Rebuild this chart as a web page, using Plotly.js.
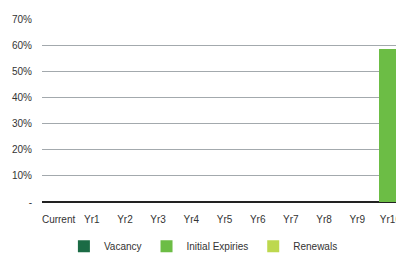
<!DOCTYPE html>
<html>
<head>
<meta charset="utf-8">
<script src="https://cdn.plot.ly/plotly-3.0.1.min.js"></script>
<style>
html,body{margin:0;padding:0;overflow:hidden;background:#fff;width:396px;height:255px;}
#chart{width:420px;height:262px;}
</style>
</head>
<body>
<div id="chart"></div>
<script>
const categories = ["Current","Yr1","Yr2","Yr3","Yr4","Yr5","Yr6","Yr7","Yr8","Yr9","Yr10"];
const vacancy = [0,0,0,0,0,0,0,0,0,0,0];
const initialExpiries = [0,0,0,0,0,0,0,0,0,0,58.5];
const renewals = [0,0,0,0,0,0,0,0,0,0,0];
const yTickVals = [0,10,20,30,40,50,60,70];
const yTickText = ["-","10%","20%","30%","40%","50%","60%","70%"];

const font = "'Liberation Sans Narrow', 'Liberation Sans', sans-serif";
const traces = [
  {type:"bar", name:"Vacancy", x:categories, y:vacancy, marker:{color:"#1b6b45"}},
  {type:"bar", name:"Initial Expiries", x:categories, y:initialExpiries, marker:{color:"#6cbd45"}},
  {type:"bar", name:"Renewals", x:categories, y:renewals, marker:{color:"#bdd84e"}}
];
const layout = {
  width:420, height:262,
  margin:{l:42, r:13, t:19, b:60},
  barmode:"stack",
  bargap:0.34,
  paper_bgcolor:"#fff", plot_bgcolor:"#fff",
  font:{family:font, size:10, color:"#333"},
  showlegend:true,
  legend:{orientation:"h", traceorder:"normal", xref:"paper", x:0.06, xanchor:"left", yref:"container", y:0.06, yanchor:"middle", font:{family:font, size:10, color:"#333"}},
  xaxis:{type:"category", showgrid:false, zeroline:false, showline:false, ticks:"", ticklabelstandoff:10, tickfont:{size:10}},
  yaxis:{range:[0,70], tickvals:yTickVals, ticktext:yTickText, showgrid:true, gridcolor:"#a3a9ad", gridwidth:1, zeroline:true, zerolinecolor:"#222", zerolinewidth:2, showline:false, ticks:"", ticklabelstandoff:9, tickfont:{size:10}}
};
Plotly.newPlot("chart", traces, layout, {displayModeBar:false, staticPlot:true});
</script>
</body>
</html>
